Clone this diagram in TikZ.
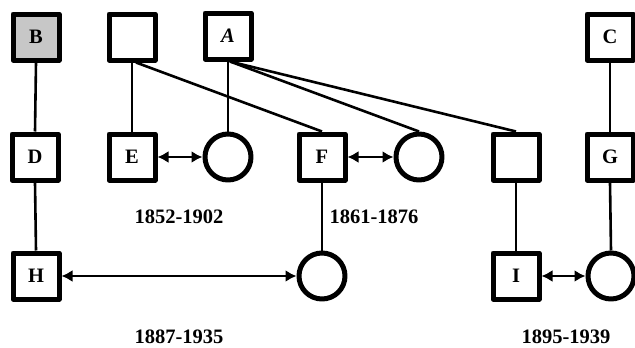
\documentclass[tikz,border=0pt]{standalone}
\usepackage{fontspec}
\setmainfont{Liberation Serif}
\usetikzlibrary{arrows.meta}
\begin{document}
\begin{tikzpicture}[x=1pt,y=-1pt,
  person/.style={draw=black,line width=5pt,line join=round,minimum size=46pt,inner sep=0pt,font=\fontsize{20.5}{24}\selectfont\bfseries},
  male/.style={person,rectangle},
  female/.style={person,circle},
  link/.style={line width=2.6pt},
  spouse/.style={line width=2.6pt,{Latex[length=11pt,width=12pt]}-{Latex[length=11pt,width=12pt]}},
  yr/.style={font=\fontsize{20.5}{24}\selectfont\bfseries}]
\useasboundingbox (0,0) rectangle (635,348);
% top row
\node[male,fill=black!22] (B) at (36,37) {B};
\node[male] (S1) at (132,37) {};
\node[male] (A) at (228,36) {\itshape A};
\node[male] (C) at (610,37) {C};
% middle row
\node[male] (D) at (35,157) {D};
\node[male] (E) at (132,157) {E};
\node[female] (W1) at (228,157) {};
\node[male] (F) at (322,157) {F};
\node[female] (W2) at (419,157) {};
\node[male] (S2) at (516,157) {};
\node[male] (G) at (610,157) {G};
% bottom row
\node[male] (H) at (36,276) {H};
\node[female] (W3) at (322,276) {};
\node[male] (I) at (516,276) {I};
\node[female] (W4) at (611,276) {};
% years
\node[yr] (y1) at (179,217) {1852-1902};
\node[yr] (y2) at (374,217) {1861-1876};
\node[yr] (y3) at (179,337) {1887-1935};
\node[yr] (y4) at (566,337) {1895-1939};
% descent lines
\draw[link] (B.south) -- (D.north);
\draw[link] (D.south) -- (H.north);
\draw[link] (S1.south) -- (E.north);
\draw[link] ([xshift=4pt]S1.south) -- (F.north);
\draw[link] (A.south) -- (W1.north);
\draw[link] ([xshift=2pt]A.south) -- (W2.north);
\draw[link] ([xshift=2pt]A.south) -- (S2.north);
\draw[link] (C.south) -- (G.north);
\draw[link] (F.south) -- (W3.north);
\draw[link] (S2.south) -- (I.north);
\draw[link] (G.south) -- (W4.north);
% marriages
\draw[spouse] (E.east) -- (W1.west);
\draw[spouse] (F.east) -- (W2.west);
\draw[spouse] (H.east) -- (W3.west);
\draw[spouse] (I.east) -- (W4.west);
\end{tikzpicture}
\end{document}
